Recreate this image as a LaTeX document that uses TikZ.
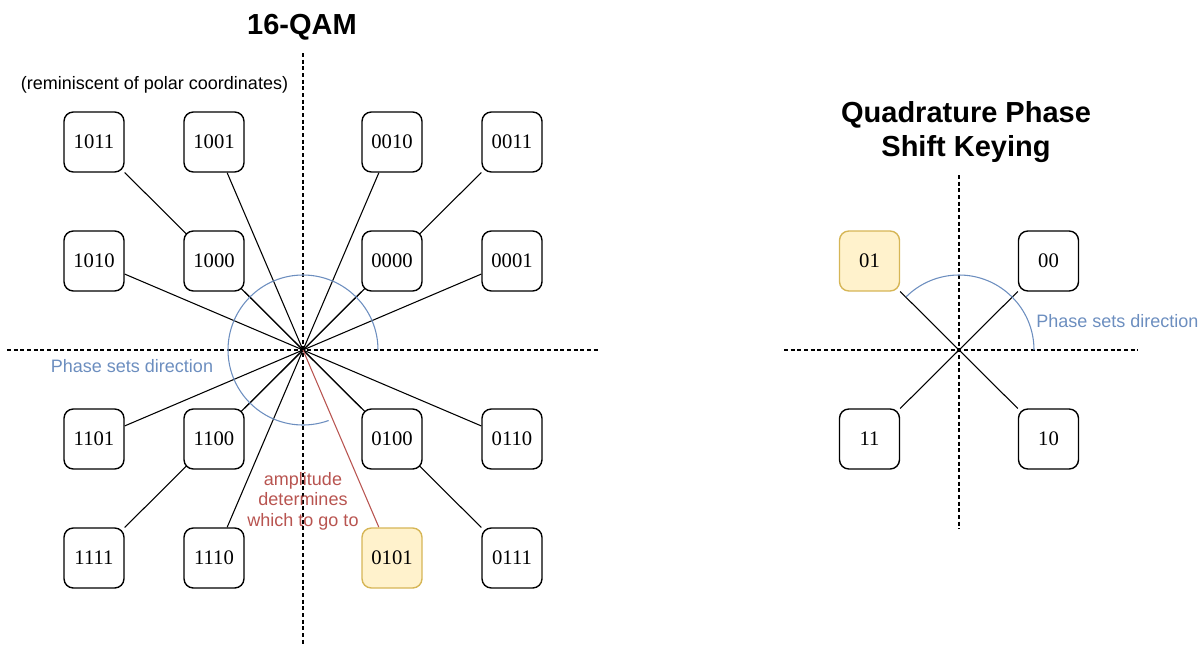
\documentclass[tikz,border=0pt]{standalone}
\usepackage{fontspec}
\setsansfont{Liberation Sans}
\newfontfamily\bitfont{Liberation Serif}
\usetikzlibrary{backgrounds}
\definecolor{phaseblue}{HTML}{6C8EBF}
\definecolor{ampred}{HTML}{B85450}
\definecolor{pickfill}{HTML}{FFF2CC}
\definecolor{pickdraw}{HTML}{D6B656}
\tikzset{
  symbol/.style={draw,line width=1.05pt,rounded corners=7pt,fill=white,
    minimum width=45pt,minimum height=45pt,inner sep=0pt,
    font=\bitfont\fontsize{15.5}{18}\selectfont},
  picked/.style={symbol,fill=pickfill,draw=pickdraw},
  axisline/.style={dash pattern=on 3pt off 2pt,line width=0.8pt},
  ray/.style={line width=0.8pt},
  note/.style={font=\sffamily\fontsize{13.5}{15.4}\selectfont,align=center,inner sep=0pt},
  heading/.style={font=\sffamily\bfseries\fontsize{21.75}{25.5}\selectfont,align=center,inner sep=0pt}
}
\begin{document}
\begin{tikzpicture}[x=0.75pt,y=-0.75pt]
\useasboundingbox (0,0) rectangle (1204,646);
% 16-QAM
\coordinate (o16) at (303,350);
\coordinate (v16a) at (303,53);
\coordinate (v16b) at (303,646);
\coordinate (h16a) at (7,350);
\coordinate (h16b) at (600,350);
\node[heading,anchor=base] (t16) at (302,34) {16-QAM};
\node[note,anchor=base] (polar) at (154.5,89) {(reminiscent of polar coordinates)};
\node[symbol] (q1011) at (94,142) {1011};
\node[symbol] (q1001) at (214,142) {1001};
\node[symbol] (q0010) at (392,142) {0010};
\node[symbol] (q0011) at (512,142) {0011};
\node[symbol] (q1010) at (94,261) {1010};
\node[symbol] (q1000) at (214,261) {1000};
\node[symbol] (q0000) at (392,261) {0000};
\node[symbol] (q0001) at (512,261) {0001};
\node[symbol] (q1101) at (94,439) {1101};
\node[symbol] (q1100) at (214,439) {1100};
\node[symbol] (q0100) at (392,439) {0100};
\node[symbol] (q0110) at (512,439) {0110};
\node[symbol] (q1111) at (94,558) {1111};
\node[symbol] (q1110) at (214,558) {1110};
\node[picked] (q0101) at (392,558) {0101};
\node[symbol] (q0111) at (512,558) {0111};
\node[note,text=phaseblue,anchor=base] (phase16) at (132,372) {Phase sets direction};
\node[note,text=ampred] (amp) at (303,501) {amplitude\\determines\\which to go to};
\begin{scope}[on background layer]
\draw[axisline] (v16a) -- (v16b);
\draw[axisline] (h16a) -- (h16b);
\draw[ray] (o16) -- (q1011);
\draw[ray] (o16) -- (q1001);
\draw[ray] (o16) -- (q0010);
\draw[ray] (o16) -- (q0011);
\draw[ray] (o16) -- (q1010);
\draw[ray] (o16) -- (q1000);
\draw[ray] (o16) -- (q0000);
\draw[ray] (o16) -- (q0001);
\draw[ray] (o16) -- (q1101);
\draw[ray] (o16) -- (q1100);
\draw[ray] (o16) -- (q0100);
\draw[ray] (o16) -- (q0110);
\draw[ray] (o16) -- (q1111);
\draw[ray] (o16) -- (q1110);
\draw[ray] (o16) -- (q0111);
\draw[ray,ampred] (o16) -- (q0101);
\end{scope}
\draw[ray,phaseblue] ([xshift=56.25pt]o16) arc[start angle=0,end angle=290,radius=56.25pt];
% QPSK
\coordinate (o4) at (959,350);
\coordinate (v4a) at (959,175);
\coordinate (v4b) at (959,529);
\coordinate (h4a) at (784,350);
\coordinate (h4b) at (1138,350);
\node[heading] (t4) at (966,132) {Quadrature Phase\\Shift Keying};
\node[picked] (p01) at (869.5,261) {01};
\node[symbol] (p00) at (1048.5,261) {00};
\node[symbol] (p11) at (869.5,439) {11};
\node[symbol] (p10) at (1048.5,439) {10};
\node[note,text=phaseblue,anchor=base west] (phase4) at (1036,327) {Phase sets direction};
\begin{scope}[on background layer]
\draw[axisline] (v4a) -- (v4b);
\draw[axisline] (h4a) -- (h4b);
\draw[ray] (o4) -- (p01);
\draw[ray] (o4) -- (p00);
\draw[ray] (o4) -- (p11);
\draw[ray] (o4) -- (p10);
\end{scope}
\draw[ray,phaseblue] ([xshift=56.25pt]o4) arc[start angle=0,end angle=135,radius=56.25pt];
\end{tikzpicture}
\end{document}
